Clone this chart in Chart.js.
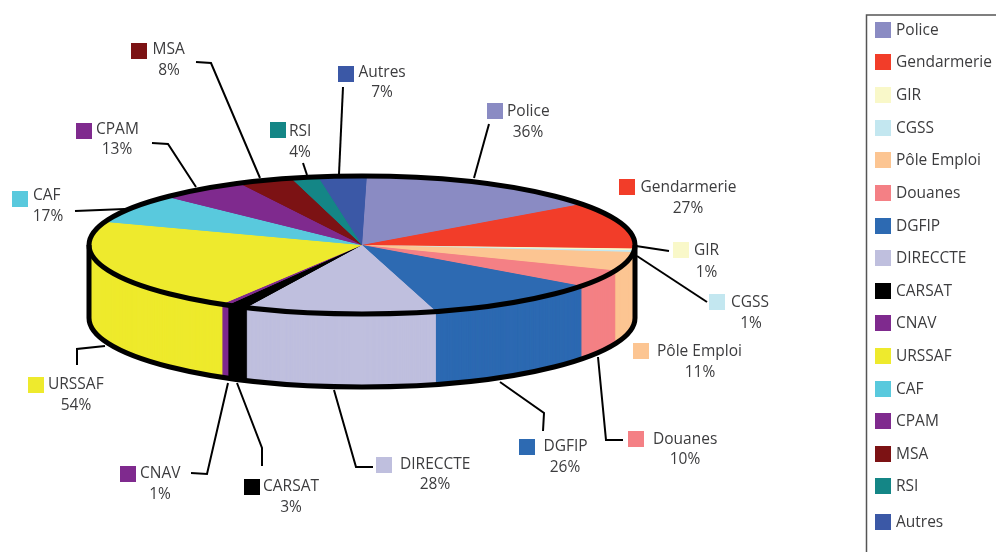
<!DOCTYPE html>
<html>
<head>
<meta charset="utf-8">
<title>Répartition</title>
<style>
  html, body { margin: 0; padding: 0; background: #fff; overflow: hidden; }
  canvas { display: block; }
</style>
<script src="https://cdn.jsdelivr.net/npm/chart.js@4/dist/chart.umd.min.js"></script>
</head>
<body>
<canvas id="pieChart" width="996" height="552"></canvas>
<script>
// data
const categories = ['Police', 'Gendarmerie', 'GIR', 'CGSS', 'Pôle Emploi', 'Douanes', 'DGFIP', 'DIRECCTE',
                    'CARSAT', 'CNAV', 'URSSAF', 'CAF', 'CPAM', 'MSA', 'RSI', 'Autres'];
const seriesValues = [36, 27, 1, 1, 11, 10, 26, 28, 3, 1, 54, 17, 13, 8, 4, 7];
const sliceColors = ['#8a8bc3', '#f23d29', '#f9f8c9', '#c3e7f0', '#fcc592', '#f48085', '#2d6ab2', '#bfbfde',
                     '#000000', '#7f2a8e', '#eeea2d', '#59c9dd', '#7f2a8e', '#7c1214', '#148686', '#3b58a6'];

// layout of the tilted pie
const TILT = 69 / 273;
const CENTER_Y = 245;
const DEPTH = 73;
const RIM = 5;
const TEXT = '#3c3c3e';
const FONT = '15.5px "Open Sans"';

// callout layout, same order as categories: swatch x,y / name x,y / percent cx,cy
const calloutBoxes = [
  [487, 103, 507, 111, 528, 132], [619, 179, 640.5, 187, 688, 208], [673, 242, 694, 250, 706.5, 272],
  [709, 294, 731, 302, 751, 323], [633, 343, 657, 351, 700, 372], [628, 431, 653, 439, 685, 459],
  [519, 439, 543.5, 446, 565, 467], [376, 457, 400, 464, 435, 484], [244, 479, 263, 486, 291, 507],
  [120, 466, 140, 473, 160, 494], [28, 377, 48, 384, 76, 405], [12, 191, 33, 195, 48, 216],
  [76, 123, 96, 129, 117, 149], [131, 43, 152.5, 49, 169, 70], [270, 122, 289, 131, 300, 152],
  [338, 66, 358.5, 72, 382, 92]
];
// leader lines
const leaders = [
  [[489, 124], [474, 178]],
  [[636, 246], [669, 251]],
  [[637, 256], [707, 302]],
  [[598, 357], [606, 440], [623, 440]],
  [[500, 382], [544, 413], [543, 431]],
  [[334, 390], [356, 467], [373, 467]],
  [[237, 383], [262, 448], [262, 466]],
  [[228, 383], [207, 474], [191, 473]],
  [[105, 346], [77, 349], [77, 365]],
  [[75, 211], [125, 209]],
  [[152, 143], [168, 144], [196, 187]],
  [[196, 62], [211, 63], [260, 178]],
  [[303, 163], [307, 175]],
  [[343, 87], [339, 174]]
];
// legend rows
const legendRows = [30, 62, 95, 128, 160, 193, 226, 258, 291, 323, 356, 389, 421, 454, 486, 522];

function tilt(ctx, arc, dy) {
  ctx.translate(arc.x, CENTER_Y + dy);
  ctx.scale(1, TILT);
  ctx.translate(-arc.x, -arc.y);
}

// extrudes the slices downwards and squashes the pie to an ellipse
const pie3d = {
  id: 'pie3d',
  beforeDatasetDraw(chart, args) {
    const ctx = chart.ctx;
    const arcs = args.meta.data;

    // leader lines sit behind the pie
    ctx.save();
    ctx.strokeStyle = '#000';
    ctx.lineWidth = 2;
    leaders.forEach(pts => {
      ctx.beginPath();
      pts.forEach((p, i) => i ? ctx.lineTo(p[0], p[1]) : ctx.moveTo(p[0], p[1]));
      ctx.stroke();
    });
    ctx.restore();

    for (let d = DEPTH; d > 0; d -= 0.25) {
      ctx.save();
      tilt(ctx, arcs[0], d);
      arcs.forEach(a => a.draw(ctx));
      ctx.restore();
    }
    ctx.save();
    tilt(ctx, arcs[0], 0);
  },
  afterDatasetDraw(chart, args) {
    const ctx = chart.ctx;
    ctx.restore();
    const a = args.meta.data[0];
    const rx = a.outerRadius, ry = rx * TILT;

    ctx.save();
    ctx.strokeStyle = '#000';
    ctx.lineWidth = RIM;
    ctx.beginPath();
    ctx.ellipse(a.x, CENTER_Y, rx, ry, 0, 0, Math.PI * 2);
    ctx.stroke();
    ctx.beginPath();
    ctx.moveTo(a.x + rx, CENTER_Y);
    ctx.lineTo(a.x + rx, CENTER_Y + DEPTH);
    ctx.ellipse(a.x, CENTER_Y + DEPTH, rx, ry, 0, 0, Math.PI);
    ctx.lineTo(a.x - rx, CENTER_Y);
    ctx.stroke();
    ctx.restore();
  },
  afterDraw(chart) {
    const ctx = chart.ctx;
    ctx.save();
    ctx.font = FONT;
    ctx.textBaseline = 'middle';

    // callouts
    categories.forEach((name, i) => {
      const b = calloutBoxes[i];
      ctx.fillStyle = sliceColors[i];
      ctx.fillRect(b[0], b[1], 16, 16);
      ctx.fillStyle = TEXT;
      ctx.textAlign = 'left';
      ctx.fillText(name, b[2], b[3] + 1);
      ctx.textAlign = 'center';
      ctx.fillText(seriesValues[i] + '%', b[4], b[5] + 1);
    });

    // legend frame and rows
    ctx.strokeStyle = '#555';
    ctx.lineWidth = 1.5;
    ctx.beginPath();
    ctx.moveTo(866.5, 560);
    ctx.lineTo(866.5, 15);
    ctx.lineTo(1000, 15);
    ctx.stroke();
    ctx.textAlign = 'left';
    categories.forEach((name, i) => {
      ctx.fillStyle = sliceColors[i];
      ctx.fillRect(875, legendRows[i] - 8, 16, 16);
      ctx.fillStyle = TEXT;
      ctx.fillText(name, 896, legendRows[i] + 1);
    });
    ctx.restore();
  }
};

new Chart(document.getElementById('pieChart'), {
  type: 'pie',
  data: {
    labels: categories,
    datasets: [{
      data: seriesValues,
      backgroundColor: sliceColors,
      borderWidth: 0,
      radius: 273,
      rotation: 1,
      clip: false
    }]
  },
  options: {
    responsive: false,
    animation: false,
    events: [],
    layout: { padding: { right: 272 } },
    plugins: {
      legend: { display: false },
      tooltip: { enabled: false }
    }
  },
  plugins: [pie3d]
});
</script>
</body>
</html>
